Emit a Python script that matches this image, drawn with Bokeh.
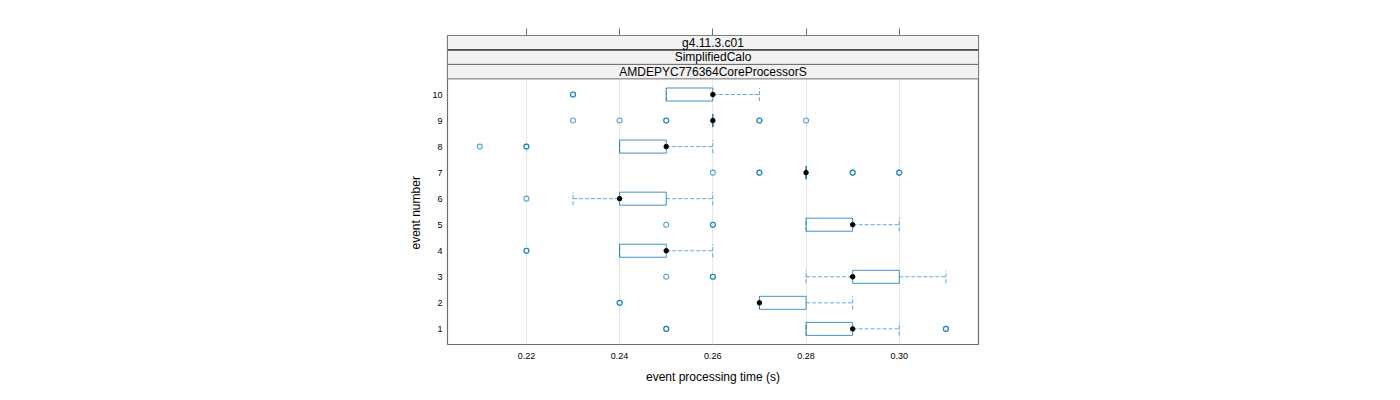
from bokeh.plotting import figure
from bokeh.models import LinearAxis, FixedTicker, Range1d, NumeralTickFormatter, Title
from bokeh.core.properties import value
from bokeh.embed import file_html
from bokeh.resources import INLINE

# ---- data ----
events = [1, 2, 3, 4, 5, 6, 7, 8, 9, 10]
q1 = [0.28, 0.27, 0.29, 0.24, 0.28, 0.24, 0.28, 0.24, 0.26, 0.25]
median = [0.29, 0.27, 0.29, 0.25, 0.29, 0.24, 0.28, 0.25, 0.26, 0.26]
q3 = [0.29, 0.28, 0.30, 0.25, 0.29, 0.25, 0.28, 0.25, 0.26, 0.26]
whisk_lo = [0.28, 0.27, 0.28, 0.24, 0.28, 0.23, 0.28, 0.24, 0.26, 0.25]
whisk_hi = [0.30, 0.29, 0.31, 0.26, 0.30, 0.26, 0.28, 0.26, 0.26, 0.27]
# outliers (repeated values appear darker in the reference)
out_event = [1, 1, 1, 1,
             2, 2,
             3, 3, 3,
             4, 4,
             5, 5, 5,
             6,
             7, 7, 7, 7, 7, 7, 7,
             8, 8, 8,
             9, 9, 9, 9, 9, 9, 9,
             10, 10]
out_time = [0.25, 0.25, 0.31, 0.31,
            0.24, 0.24,
            0.25, 0.26, 0.26,
            0.22, 0.22,
            0.25, 0.26, 0.26,
            0.22,
            0.26, 0.27, 0.27, 0.29, 0.29, 0.30, 0.30,
            0.21, 0.22, 0.22,
            0.23, 0.24, 0.25, 0.25, 0.27, 0.27, 0.28,
            0.23, 0.23]
x_ticks = [0.22, 0.24, 0.26, 0.28, 0.30]
strip_labels = ["g4.11.3.c01", "SimplifiedCalo", "AMDEPYC776364CoreProcessorS"]

# ---- layout constants ----
X0, X1 = 0.20307, 0.31700
Y0 = 0.4
PANEL_TOP = 10.6
Y1 = 12.266
BOX_H = 0.25
BLUE = "#0072B2"
FONT = "Liberation Sans"

p = figure(width=1392, height=392, output_backend="svg", toolbar_location=None,
           x_range=Range1d(X0, X1), y_range=Range1d(Y0, Y1),
           min_border_left=447, min_border_right=414,
           min_border_top=35, min_border_bottom=48)
p.background_fill_color = "white"
p.border_fill_color = "white"
p.outline_line_color = "#6e6e6e"
p.outline_line_width = 1.2

# grid
p.xgrid.ticker = FixedTicker(ticks=x_ticks)
p.xgrid.grid_line_color = "#e8e8e8"
p.ygrid.visible = False

# bottom axis
xa = p.xaxis[0]
xa.ticker = FixedTicker(ticks=x_ticks)
xa.formatter = NumeralTickFormatter(format="0.00")
xa.major_tick_out = 0
xa.major_tick_in = 0
xa.minor_tick_out = 0
xa.minor_tick_in = 0
xa.axis_line_color = None
xa.major_label_text_font = FONT
xa.major_label_text_font_size = "9px"
xa.major_label_text_color = "black"
xa.major_label_standoff = 8
xa.axis_label = "event processing time (s)"
xa.axis_label_text_font = FONT
xa.axis_label_text_font_size = "12px"
xa.axis_label_text_font_style = "normal"
xa.axis_label_text_color = "black"
xa.axis_label_standoff = 8

# left axis
ya = p.yaxis[0]
ya.ticker = FixedTicker(ticks=events)
ya.major_tick_out = 0
ya.major_tick_in = 0
ya.minor_tick_out = 0
ya.minor_tick_in = 0
ya.axis_line_color = None
ya.major_label_text_font = FONT
ya.major_label_text_font_size = "9px"
ya.major_label_text_color = "black"
ya.major_label_standoff = 5

# y axis title, centred on the panel below the strips (as lattice does)
ytitle = Title(text="event number", align="left", offset=95, standoff=13,
               text_font=FONT, text_font_size="12px", text_font_style="normal",
               text_color="black")
p.add_layout(ytitle, "left")

# top axis: ticks only
top = LinearAxis(ticker=FixedTicker(ticks=x_ticks))
top.major_tick_out = 7
top.major_tick_in = 0
top.minor_tick_out = 0
top.minor_tick_in = 0
top.major_tick_line_color = "#6e6e6e"
top.axis_line_color = None
top.major_label_text_font_size = "0px"
top.major_label_overrides = {t: "" for t in x_ticks}
p.add_layout(top, "above")

# strips
sh = (Y1 - PANEL_TOP) / 3.0
sb = [PANEL_TOP + (2 - i) * sh for i in range(3)]
p.quad(left=[X0] * 3, right=[X1] * 3, bottom=sb, top=[b + sh for b in sb],
       fill_color="#f2f2f2", line_color="#6e6e6e", line_width=1)
p.segment(x0=[X0], x1=[X1], y0=[sb[0]], y1=[sb[0]], line_color="#1a1a1a", line_width=1)
p.text(x=[(X0 + X1) / 2] * 3, y=[b + sh / 2 for b in sb], text=strip_labels,
       text_align="center", text_baseline="middle",
       text_font=value(FONT), text_font_size="12px", text_color="black")

# whiskers
p.segment(x0=q3, x1=whisk_hi, y0=events, y1=events, line_color=BLUE,
          line_alpha=0.6, line_dash="4 2", line_width=1)
p.segment(x0=whisk_lo, x1=q1, y0=events, y1=events, line_color=BLUE,
          line_alpha=0.6, line_dash="4 2", line_width=1)
p.segment(x0=whisk_hi, x1=whisk_hi, y0=[e - BOX_H for e in events],
          y1=[e + BOX_H for e in events], line_color=BLUE, line_alpha=0.6,
          line_dash="4 2", line_width=1)
p.segment(x0=whisk_lo, x1=whisk_lo, y0=[e - BOX_H for e in events],
          y1=[e + BOX_H for e in events], line_color=BLUE, line_alpha=0.6,
          line_dash="4 2", line_width=1)

# boxes
p.quad(left=q1, right=q3, bottom=[e - BOX_H for e in events],
       top=[e + BOX_H for e in events], fill_color=None,
       line_color=BLUE, line_alpha=0.75, line_width=1)

# outliers
p.scatter(x=out_time, y=out_event, marker="circle", size=5, fill_color=None,
          line_color=BLUE, line_alpha=0.65, line_width=1.1)

# medians
p.scatter(x=median, y=events, marker="circle", size=4.5, fill_color="black",
          line_color="black")

open("out.html", "w").write(file_html(p, INLINE))
